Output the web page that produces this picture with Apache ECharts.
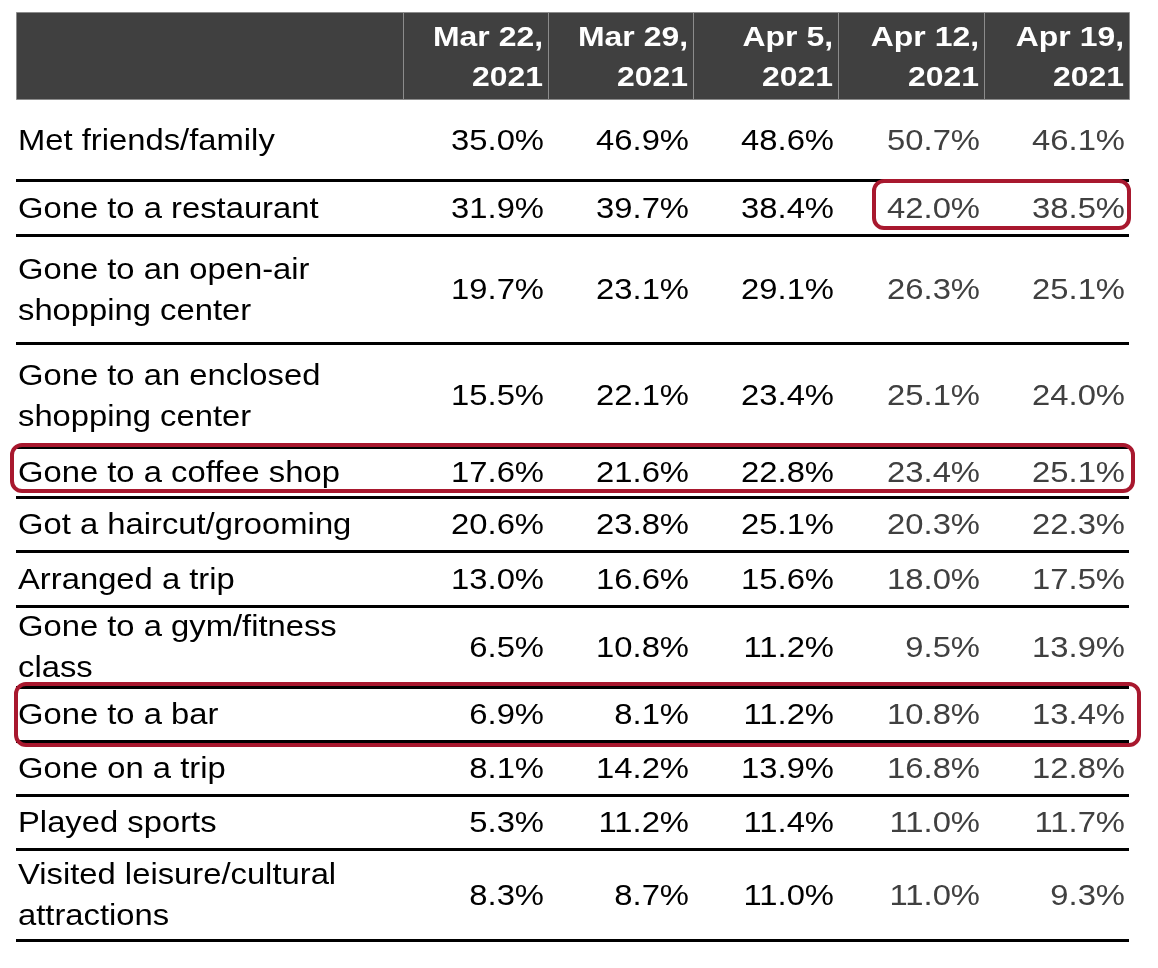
<!DOCTYPE html>
<html>
<head>
<meta charset="utf-8">
<script src="https://cdn.jsdelivr.net/npm/echarts@6/dist/echarts.min.js"></script>
<style>
html,body{margin:0;padding:0;background:#fff;}
#chart{width:1158px;height:968px;}
</style>
</head>
<body>
<div id="chart"></div>
<script>
// ---------------- data ----------------
const activities = [
  "Met friends/family",
  "Gone to a restaurant",
  "Gone to an open-air\nshopping center",
  "Gone to an enclosed\nshopping center",
  "Gone to a coffee shop",
  "Got a haircut/grooming",
  "Arranged a trip",
  "Gone to a gym/fitness\nclass",
  "Gone to a bar",
  "Gone on a trip",
  "Played sports",
  "Visited leisure/cultural\nattractions"
];
const periods = ["Mar 22,\n2021", "Mar 29,\n2021", "Apr 5,\n2021", "Apr 12,\n2021", "Apr 19,\n2021"];
const mar22 = [35.0, 31.9, 19.7, 15.5, 17.6, 20.6, 13.0, 6.5, 6.9, 8.1, 5.3, 8.3];
const mar29 = [46.9, 39.7, 23.1, 22.1, 21.6, 23.8, 16.6, 10.8, 8.1, 14.2, 11.2, 8.7];
const apr5  = [48.6, 38.4, 29.1, 23.4, 22.8, 25.1, 15.6, 11.2, 11.2, 13.9, 11.4, 11.0];
const apr12 = [50.7, 42.0, 26.3, 25.1, 23.4, 20.3, 18.0, 9.5, 10.8, 16.8, 11.0, 11.0];
const apr19 = [46.1, 38.5, 25.1, 24.0, 25.1, 22.3, 17.5, 13.9, 13.4, 12.8, 11.7, 9.3];
const periodValues = [mar22, mar29, apr5, apr12, apr19];
// highlighted cells: row index, first column, last column (column 0 = activity label)
const highlightRows = [1, 4, 8];
const highlightFromCol = [4, 0, 0];
const highlightToCol = [5, 5, 5];

// ---------------- layout (table space, px units) ----------------
const COL_EDGES = [16, 403, 548, 693, 838, 984, 1129];
const HEADER_EDGES = [12, 99];
const ROW_EDGES = [99, 180, 235, 343, 447, 497, 551, 606, 687, 741, 795, 849, 940];
const BOX_ADJ = [
  {l: 36, r: 0, t: 1, b: -7},
  {l: -4, r: 4, t: -2, b: -6},
  {l: 0, r: 10, t: -3, b: 4}
];
const FONT = '"Liberation Sans", Arial, sans-serif';
const BODY_SIZE = 29, HEAD_SIZE = 28, STRETCH_BODY = 1.13, STRETCH_HEAD = 1.14;
const TEXT_DY = 2;
const VALUE_COLORS = ['#000000', '#000000', '#000000', '#404040', '#404040'];
const RED = '#A8182E';

const chart = echarts.init(document.getElementById('chart'));

const headerLabels = [''].concat(periods);

const series = [];

// header
series.push({
  type: 'custom',
  name: 'header',
  data: headerLabels.map((t, k) => [k]),
  z: 1,
  renderItem: function (params, api) {
    const k = api.value(0);
    const p0 = api.coord([COL_EDGES[k], HEADER_EDGES[0]]);
    const p1 = api.coord([COL_EDGES[k + 1], HEADER_EDGES[1]]);
    const children = [{
      type: 'rect',
      shape: {x: Math.round(p0[0]) + 0.5, y: Math.round(p0[1]) + 0.5, width: Math.round(p1[0] - p0[0]), height: Math.round(p1[1] - p0[1])},
      style: {fill: '#404040', stroke: '#8c8c8c', lineWidth: 1}
    }];
    const label = headerLabels[k];
    if (label) {
      children.push({
        type: 'text',
        x: p1[0] - 5,
        y: (p0[1] + p1[1]) / 2 + 3,
        scaleX: STRETCH_HEAD,
        style: {text: label, x: 0, y: 0, fill: '#ffffff', fontFamily: FONT, fontSize: HEAD_SIZE, fontWeight: 'bold',
                align: 'right', verticalAlign: 'middle', lineHeight: 40}
      });
    }
    return {type: 'group', children: children};
  }
});

// activity labels + row rules
series.push({
  type: 'custom',
  name: 'activities',
  data: activities.map((a, r) => [r]),
  z: 2,
  renderItem: function (params, api) {
    const r = api.value(0);
    const top = api.coord([COL_EDGES[0], ROW_EDGES[r]]);
    const bot = api.coord([COL_EDGES[6], ROW_EDGES[r + 1]]);
    const yLine = Math.round(bot[1]) + 0.5;
    return {
      type: 'group',
      children: [
        {
          type: 'line',
          shape: {x1: top[0], y1: yLine, x2: bot[0], y2: yLine},
          style: {stroke: '#000000', lineWidth: 3}
        },
        {
          type: 'text',
          x: top[0] + 2,
          y: (top[1] + bot[1]) / 2 + TEXT_DY,
          scaleX: STRETCH_BODY,
          style: {text: activities[r], x: 0, y: 0, fill: '#000000', fontFamily: FONT, fontSize: BODY_SIZE,
                  align: 'left', verticalAlign: 'middle', lineHeight: 41}
        }
      ]
    };
  }
});

// value columns
periodValues.forEach(function (vals, c) {
  series.push({
    type: 'custom',
    name: periods[c].replace('\n', ' '),
    data: vals.map((v, r) => [r, v]),
    z: 3,
    renderItem: function (params, api) {
      const r = api.value(0);
      const v = api.value(1);
      const top = api.coord([COL_EDGES[c + 2], ROW_EDGES[r]]);
      const bot = api.coord([COL_EDGES[c + 2], ROW_EDGES[r + 1]]);
      return {
        type: 'text',
        x: top[0] - 4,
        y: (top[1] + bot[1]) / 2 + TEXT_DY,
        scaleX: STRETCH_BODY,
        style: {text: v.toFixed(1) + '%', x: 0, y: 0, fill: VALUE_COLORS[c], fontFamily: FONT, fontSize: BODY_SIZE,
                align: 'right', verticalAlign: 'middle'}
      };
    }
  });
});

// highlight boxes
series.push({
  type: 'custom',
  name: 'highlights',
  data: highlightRows.map((r, i) => [r, highlightFromCol[i], highlightToCol[i]]),
  z: 10,
  renderItem: function (params, api) {
    const r = api.value(0), c0 = api.value(1), c1 = api.value(2);
    const adj = BOX_ADJ[params.dataIndex];
    const p0 = api.coord([COL_EDGES[c0] + adj.l, ROW_EDGES[r] + adj.t]);
    const p1 = api.coord([COL_EDGES[c1 + 1] + adj.r, ROW_EDGES[r + 1] + adj.b]);
    return {
      type: 'rect',
      shape: {x: p0[0], y: p0[1], width: p1[0] - p0[0], height: p1[1] - p0[1], r: 10},
      style: {fill: 'none', stroke: RED, lineWidth: 4}
    };
  }
});

chart.setOption({
  animation: false,
  backgroundColor: '#ffffff',
  grid: {left: 0, right: 0, top: 0, bottom: 0},
  xAxis: {type: 'value', min: 0, max: 1158, show: false},
  yAxis: {type: 'value', min: 0, max: 968, inverse: true, show: false},
  series: series
});
</script>
</body>
</html>
